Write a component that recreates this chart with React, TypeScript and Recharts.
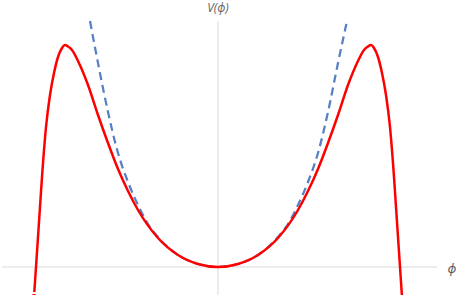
import { LineChart, Line, XAxis, YAxis, ReferenceLine, ReferenceDot } from "recharts";

// phi offsets and V heights (same units on both axes)
const redPhi = [
  -184, -182, -180, -178, -176, -172, -168, -164, -160, -156, -153, -150, -146, -140, -130, -120, -110, -100, -90, -80,
  -60, -40, -20, 0, 20, 40, 60, 80, 90, 100, 110, 120, 130, 140, 146, 150, 153, 156, 160, 164, 168, 172, 176, 178,
  180, 182, 184,
];
const redV = [
  -30, 0, 30, 60, 90, 140, 172, 194, 210, 219, 222, 220.5, 217, 206, 182, 152, 124, 98, 76, 57, 29, 12, 3, 0, 3, 12,
  29, 57, 76, 98, 124, 152, 182, 206, 217, 220.5, 222, 219, 210, 194, 172, 140, 90, 60, 30, 0, -30,
];

const bluePhi = [-128, -120, -110, -100, -90, -80, -70, -60, -40, -20, 0, 20, 40, 60, 70, 80, 90, 100, 110, 120, 129];
const blueV = [246, 204, 155, 114, 85, 62, 43, 30, 12, 3, 0, 3, 12, 30, 43, 62, 85, 114, 155, 204, 246];

const red = redPhi.map((x, i) => ({ x, v: redV[i] }));
const blue = bluePhi.map((x, i) => ({ x, v: blueV[i] }));

export default function App() {
  return (
    <div style={{ position: "absolute", left: 0, top: 0 }}>
      <LineChart width={457} height={295} margin={{ top: 0, right: 0, bottom: 0, left: 0 }}>
        <XAxis type="number" dataKey="x" domain={[-218, 239]} hide allowDataOverflow />
        <YAxis type="number" dataKey="v" domain={[-28, 267]} hide allowDataOverflow />
        <ReferenceLine
          segment={[
            { x: -216, y: 0 },
            { x: 219, y: 0 },
          ]}
          stroke="#d9d9d9"
          strokeWidth={1}
        />
        <ReferenceLine
          segment={[
            { x: 0, y: -28 },
            { x: 0, y: 246 },
          ]}
          stroke="#d9d9d9"
          strokeWidth={1}
        />
        <Line
          data={blue}
          dataKey="v"
          type="monotone"
          stroke="#5580c4"
          strokeWidth={2.25}
          strokeDasharray="8 5"
          dot={false}
          isAnimationActive={false}
        />
        <Line
          data={red}
          dataKey="v"
          type="monotone"
          stroke="#ff0000"
          strokeWidth={2.5}
          dot={false}
          isAnimationActive={false}
        />
        <ReferenceDot
          x={0}
          y={259}
          r={0}
          stroke="none"
          label={{
            value: "V(ϕ)",
            position: "center",
            fill: "#6b6b6b",
            fontSize: 12,
            fontStyle: "italic",
            fontFamily: "Noto Sans",
          }}
        />
        <ReferenceDot
          x={234}
          y={-1}
          r={0}
          stroke="none"
          label={{
            value: "ϕ",
            position: "center",
            fill: "#595959",
            fontSize: 13,
            fontStyle: "italic",
            fontFamily: "Noto Sans",
          }}
        />
      </LineChart>
    </div>
  );
}
